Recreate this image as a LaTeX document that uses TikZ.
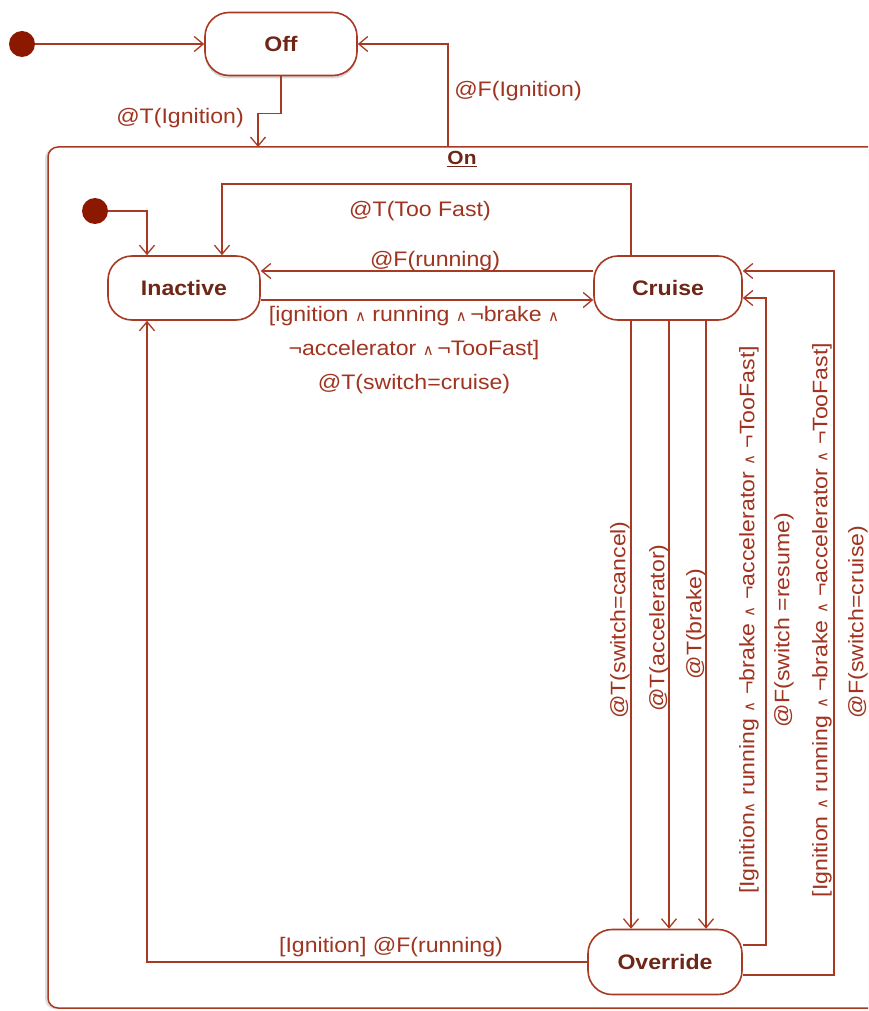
\documentclass[tikz,border=0pt]{standalone}
\usepackage{fontspec}
\setmainfont{Liberation Sans}[FakeStretch=1.1]
\newfontfamily\symf{DejaVu Sans}
\usetikzlibrary{arrows.meta,calc,shadows}
\definecolor{ln}{RGB}{168,58,36}
\definecolor{tx}{RGB}{160,52,32}
\definecolor{nt}{RGB}{110,38,22}
\definecolor{dotc}{RGB}{140,24,0}
\newcommand{\wdg}{{\symf\fontsize{15}{15}\selectfont ∧}}
\begin{document}
\begin{tikzpicture}[x=1pt,y=-1pt,
  every node/.style={font=\fontsize{21}{34}\selectfont},
  arr/.style={draw=ln,line width=1.5pt,-{Straight Barb[length=9pt,width=15pt,line width=1.3pt]}},
  plain/.style={draw=ln,line width=1.5pt},
  state/.style={draw=ln,line width=1.6pt,rounded corners=24pt,fill=white,
    font=\fontsize{21}{25}\selectfont\bfseries,text=nt,inner sep=0pt},
  lbl/.style={text=tx,inner sep=1pt},
  vlbl/.style={text=tx,inner sep=1pt,rotate=90},
  initst/.style={circle,fill=dotc,minimum size=26pt,inner sep=0pt}]
\useasboundingbox (0,0) rectangle (868,1011);
\clip (0,0) rectangle (868,1011);
% composite state On
\node[draw=ln,line width=1.5pt,rounded corners=10pt,fill=white,
  drop shadow={shadow xshift=-3pt,shadow yshift=-1pt,opacity=0.25},
  minimum width=852pt,minimum height=861pt,inner sep=0pt] (On) at (474,577.5) {};
\node[font=\fontsize{19}{22}\selectfont\bfseries,text=nt,inner sep=0pt] (OnL) at (462,159) {\underline{On}};
% states
\node[initst] (init) at (22,44) {};
\node[state,minimum width=152pt,minimum height=63pt,
  drop shadow={shadow xshift=0pt,shadow yshift=-3pt,opacity=0.3}] (Off) at (281,44) {Off};
\node[initst] (init2) at (95,211) {};
\node[state,minimum width=152pt,minimum height=64pt] (Inactive) at (184,288) {Inactive};
\node[state,minimum width=148pt,minimum height=64pt] (Cruise) at (668,288) {Cruise};
\node[state,minimum width=154pt,minimum height=65pt] (Override) at (665,962) {Override};
% helper coordinates
\coordinate (onIn) at (258,147);
\coordinate (onOut) at (448,147);
\coordinate (c1) at ($(Cruise.south)+(-37,0)$);
\coordinate (c2) at ($(Cruise.south)+(1,0)$);
\coordinate (c3) at ($(Cruise.south)+(38,0)$);
% transitions
\draw[arr] (init) -- (Off);
\draw[arr] (Off.south) -- ++(0,37) -| (onIn);
\draw[arr] (onOut) |- (Off.east);
\draw[arr] (init2) -| ($(Inactive.north)+(-37,0)$);
\draw[arr] ($(Cruise.north)+(-37,0)$) -- ++(0,-71) -| ($(Inactive.north)+(38,0)$);
\draw[arr] ($(Cruise.west)+(0,-17)$) -- ($(Inactive.east)+(0,-17)$);
\draw[arr] ($(Inactive.east)+(0,12)$) -- ($(Cruise.west)+(0,12)$);
\draw[arr] (c1) -- (c1 |- Override.north);
\draw[arr] (c2) -- (c2 |- Override.north);
\draw[arr] (c3) -- (c3 |- Override.north);
\draw[arr] ($(Override.east)+(0,-17)$) -- ++(23,0) |- ($(Cruise.east)+(0,10)$);
\draw[arr] ($(Override.east)+(0,13)$) -- ++(91,0) |- ($(Cruise.east)+(0,-17)$);
\draw[arr] (Override.west) -| ($(Inactive.south)+(-37,0)$);
% labels
\node[lbl] (l1) at (180,118) {@T(Ignition)};
\node[lbl] (l2) at (518,91) {@F(Ignition)};
\node[lbl] (l3) at (420,211) {@T(Too Fast)};
\node[lbl] (l4) at (435,261) {@F(running)};
\node[lbl,align=center] (l5) at (414,350) {[ignition \wdg{} running \wdg\,¬brake \wdg\\¬accelerator \wdg\,¬TooFast]\\@T(switch=cruise)};
\node[vlbl] (l6) at (620,620) {@T(switch=cancel)};
\node[vlbl] (l7) at (659,628) {@T(accelerator)};
\node[vlbl] (l8) at (696,624) {@T(brake)};
\node[vlbl] (l9) at (749,620) {[Ignition\wdg{} running \wdg{} ¬brake \wdg{} ¬accelerator \wdg{} ¬TooFast]};
\node[vlbl] (l10) at (784,620) {@F(switch =resume)};
\node[vlbl] (l11) at (822,620) {[Ignition \wdg{} running \wdg{} ¬brake \wdg{} ¬accelerator \wdg{} ¬TooFast]};
\node[vlbl] (l12) at (858,622) {@F(switch=cruise)};
\node[lbl] (l13) at (391,947) {[Ignition] @F(running)};
\end{tikzpicture}
\end{document}
